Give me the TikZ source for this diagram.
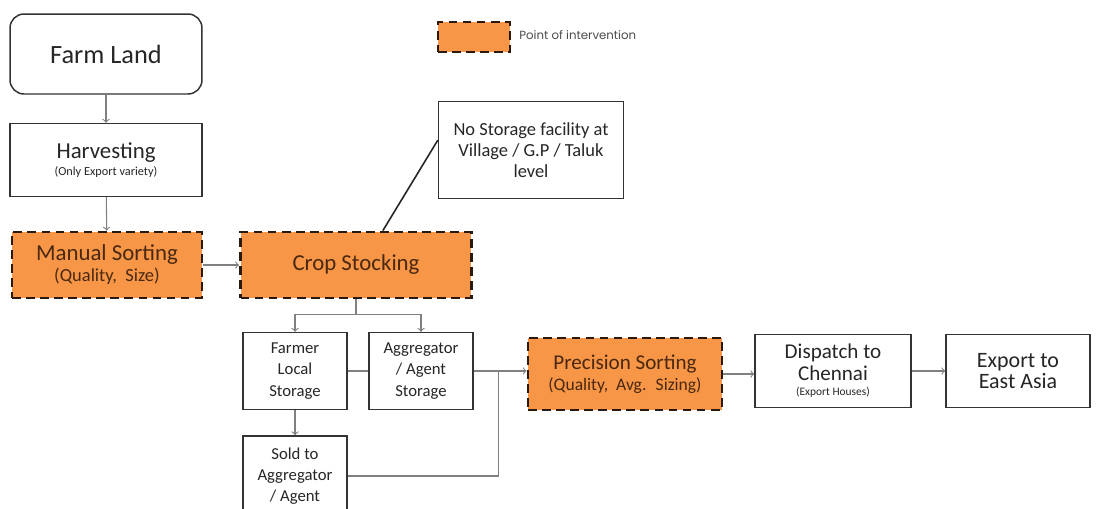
\documentclass[tikz,border=0pt]{standalone}
\usepackage{fontspec}
\setmainfont{Carlito}
\newfontfamily\legendfont{Poppins}
\usepackage{xcolor}
\usetikzlibrary{positioning}
\definecolor{hotfill}{HTML}{F79646}
\definecolor{hotline}{HTML}{2B1A0C}
\definecolor{hottext}{HTML}{4A2810}
\newcommand{\fs}[1]{\fontsize{#1}{1.2\dimexpr #1pt\relax}\selectfont}

\begin{document}
\begin{tikzpicture}[x=0.02cm, y=-0.02cm,
  box/.style={draw=black!80, line width=0.85pt, fill=white, text=black!85, align=center, inner sep=1pt},
  hotbox/.style={box, fill=hotfill, draw=hotline, line width=1.6pt, dash pattern=on 5pt off 3pt, text=hottext},
  arr/.style={->, draw=black!50, line width=0.6pt},
  link/.style={draw=black!50, line width=0.6pt}]
\clip (0,0) rectangle (1096,508);
\fill[white] (0,0) rectangle (1096,508);
% legend
\node[hotbox, minimum width=1.44cm, minimum height=0.6cm] (key) at (474,37) {};
\node[anchor=west, inner sep=0pt, text=black!70] (keytext) at (519,35) {\legendfont\fs{6.7}Point of intervention};
% main chain
\node[box, rounded corners=0.28cm, minimum width=3.84cm, minimum height=1.6cm] (farm) at (106,54) {\fs{15}Farm Land};
\node[box, minimum width=3.84cm, minimum height=1.46cm] (harv) at (106,160) {\fs{13}Harvesting\\[-2pt]\fs{7}(Only Export variety)};
\node[hotbox, minimum width=3.8cm, minimum height=1.32cm] (manual) at (107,265) {\fs{13}Manual Sorting\\\fs{10.5}(Quality,~ Size)};
\node[hotbox, minimum width=4.62cm, minimum height=1.32cm] (crop) at (356,265) {\fs{13}Crop Stocking};
\node[box, minimum width=3.7cm, minimum height=1.94cm] (nostore) at (531,150) {\fs{10.5}No Storage facility at\\\fs{10.5}Village / G.P / Taluk\\\fs{10.5}level};
% storage
\node[box, minimum width=2.08cm, minimum height=1.54cm] (farmer) at (295,371) {\fs{9.5}Farmer\\\fs{9.5}Local\\\fs{9.5}Storage};
\node[box, minimum width=2.08cm, minimum height=1.54cm] (aggr) at (421,371) {\fs{9.5}Aggregator\\\fs{9.5}/ Agent\\\fs{9.5}Storage};
\node[box, minimum width=2.08cm, minimum height=1.6cm] (sold) at (295,476) {\fs{9.5}Sold to\\\fs{9.5}Aggregator\\\fs{9.5}/ Agent};
% export side
\node[hotbox, minimum width=3.88cm, minimum height=1.44cm] (prec) at (625,374) {\fs{12}Precision Sorting\\\fs{10}(Quality,~ Avg.~ Sizing)};
\node[box, minimum width=3.12cm, minimum height=1.46cm] (disp) at (833,371) {\fs{12}Dispatch to\\\fs{12}Chennai\\[-3pt]\fs{6.5}(Export Houses)};
\node[box, minimum width=2.88cm, minimum height=1.46cm] (export) at (1018,371) {\fs{12.5}Export to\\\fs{12.5}East Asia};
% connectors
\draw[arr] (farm) -- (harv);
\draw[arr] (harv) -- (manual);
\draw[arr] (manual) -- (crop);
\draw[black!85, line width=0.9pt] (crop.52) -- (nostore.174);
\draw[link] (crop.south) -- ++(0,15) coordinate (split);
\draw[arr] (split) -| (farmer.north);
\draw[arr] (split) -| (aggr.north);
\draw[link] (farmer.east) -- (aggr.west);
\draw[arr] (farmer) -- (sold);
\coordinate (junc) at ([xshift=0.5cm]aggr.east);
\draw[arr] (aggr.east) -- (aggr.east -| prec.west);
\draw[link] (sold.east) -| (junc);
\draw[arr] (prec.east) -- (prec.east -| disp.west);
\draw[arr] (disp) -- (export);
\end{tikzpicture}
\end{document}
